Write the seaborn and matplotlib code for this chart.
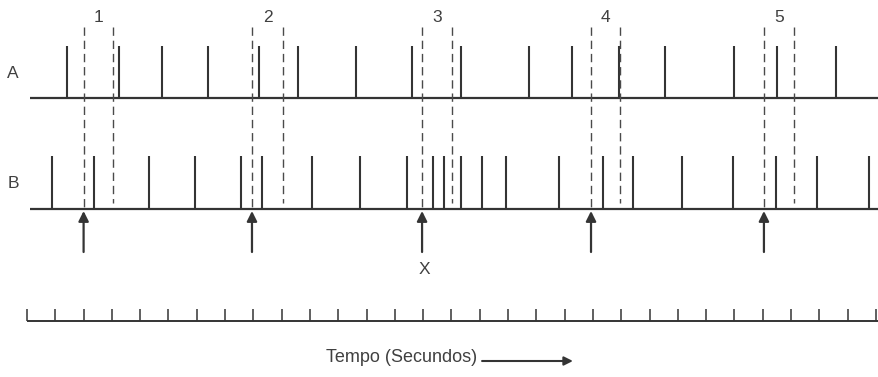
import matplotlib
matplotlib.use("Agg")
import matplotlib.pyplot as plt
import seaborn as sns
import pandas as pd

# Spike times (seconds) for the two trains
a_spikes = [1.41, 3.25, 4.77, 6.40, 8.20, 9.58, 11.63, 13.60, 15.34, 17.74,
            19.26, 20.92, 22.54, 24.98, 26.50, 28.59]
b_spikes = [0.88, 2.37, 4.31, 5.94, 7.56, 8.30, 10.07, 11.77, 13.43, 14.35,
            14.73, 15.34, 16.08, 16.93, 18.80, 20.35, 21.41, 23.14, 24.95,
            26.47, 27.92, 29.75]

# Analysis windows (start / end, seconds) and their labels
win_start = [2.00, 7.95, 13.96, 19.93, 26.04]
win_end = [3.04, 9.05, 15.02, 20.95, 27.10]
win_labels = ["1", "2", "3", "4", "5"]
marked_window = "3"

# Time ruler ticks (seconds)
ruler_ticks = [0, 1, 2, 3, 4, 5, 6, 7, 8, 9, 10, 11, 12, 13, 14, 15, 16, 17,
               18, 19, 20, 21, 22, 23, 24, 25, 26, 27, 28, 29, 30]

train_labels = ["A", "B"]
axis_title = "Tempo (Secundos)"

spikes = pd.concat([
    pd.DataFrame({"train": "A", "t": a_spikes}),
    pd.DataFrame({"train": "B", "t": b_spikes}),
])
windows = pd.DataFrame({"start": win_start, "end": win_end, "label": win_labels})

sns.set_theme(style="white")
plt.rcParams["font.family"] = ["Liberation Sans", "DejaVu Sans"]

fig = plt.figure(figsize=(8.79, 3.77), dpi=100)
ax = fig.add_axes([0, 0, 1, 1])
ax.set_xlim(-0.954, 30.106)
ax.set_ylim(377, 0)
ax.axis("off")

INK = "#343434"
TXT = "#404040"
FS = 12.5

# vertical layout of the rows (baseline, spike top)
rows = {"A": (98, 46), "B": (209, 156)}

for name, (base, top) in zip(train_labels, rows.values()):
    ax.hlines(base, 0.12, 30.2, color=INK, lw=1.6)
    ts = spikes.loc[spikes["train"] == name, "t"]
    ax.vlines(ts, top, base, color=INK, lw=1.5)
    ax.text(-0.495, (base + top) / 2 + 1, name, ha="center", va="center",
            fontsize=FS, color=TXT)

# dashed window boundaries
ax.vlines(windows["start"], 27, 207, color="#4a4a4a", lw=1.0,
          linestyles=(0, (6, 3.5)))
ax.vlines(windows["end"], 27, 203, color="#4a4a4a", lw=1.0,
          linestyles=(0, (6, 3.5)))
for _, w in windows.iterrows():
    ax.text((w["start"] + w["end"]) / 2, 18, w["label"], ha="center",
            va="center", fontsize=FS, color=TXT)
    ax.annotate("", xy=(w["start"], 211), xytext=(w["start"], 252),
                arrowprops=dict(arrowstyle="-|>", color=INK, lw=1.6,
                                mutation_scale=15, shrinkA=0, shrinkB=0))
    if w["label"] == marked_window:
        ax.text(w["start"] + 0.08, 270, "X", ha="center", va="center",
                fontsize=FS, color=TXT)

# time ruler
ax.hlines(321, 0, 30.2, color=INK, lw=1.4)
ax.vlines(ruler_ticks, 309, 321, color=INK, lw=1.1)

# axis caption with direction arrow
ax.text(15.90, 358, axis_title, ha="right", va="center", fontsize=13,
        color=TXT)
ax.annotate("", xy=(19.29, 361), xytext=(16.08, 361),
            arrowprops=dict(arrowstyle="-|>", color=INK, lw=1.5,
                            mutation_scale=13, shrinkA=0, shrinkB=0))

fig.savefig("out.png", dpi=100, facecolor="white")
